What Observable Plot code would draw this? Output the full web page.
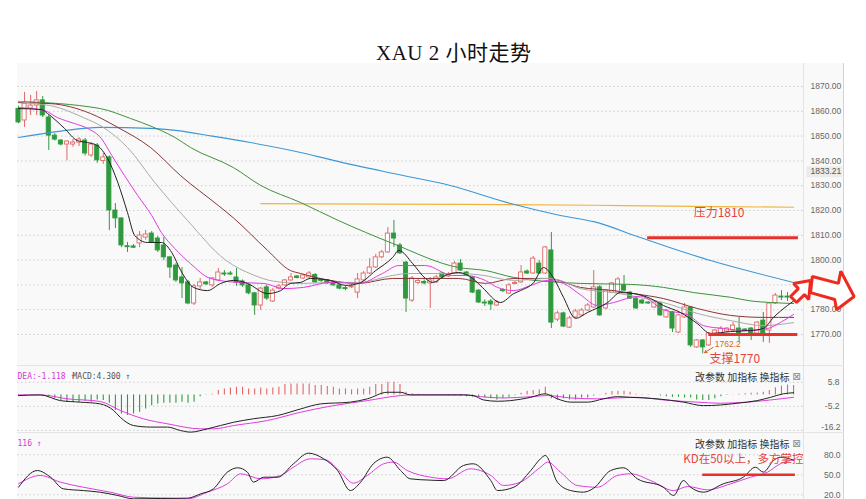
<!DOCTYPE html>
<html><head><meta charset="utf-8">
<script src="https://cdn.jsdelivr.net/npm/d3@7"></script>
<script src="https://cdn.jsdelivr.net/npm/@observablehq/plot@0.6"></script>
<style>
html,body{margin:0;padding:0;background:#fff;}
#wrap{position:relative;width:866px;height:499px;overflow:hidden;}
#title{position:absolute;left:376px;top:40px;font-size:21px;line-height:26px;font-family:"Liberation Serif","Noto Sans CJK SC",serif;color:#111;white-space:nowrap;letter-spacing:0.5px;}
.abs{position:absolute;}
</style></head><body>
<div id="wrap">
<div id="title">XAU 2 小时走势</div>
<div class="abs" style="left:17px;top:63px;width:826px;height:436px;background:#f9f9f9;"></div>
<div class="abs" style="left:803px;top:63px;width:1px;height:436px;background:#e4e4e4;"></div>
<div class="abs" style="left:843px;top:63px;width:1px;height:436px;background:#d4d4d4;"></div>
<div class="abs" style="left:17px;top:365px;width:827px;height:1px;background:#e4e4e4;"></div>
<div class="abs" style="left:17px;top:432px;width:827px;height:1px;background:#e4e4e4;"></div>
<div id="main" class="abs" style="left:0;top:63px;"></div>
<div id="macd" class="abs" style="left:0;top:365px;"></div>
<div id="kdj" class="abs" style="left:0;top:432px;"></div>
</div>
<script>
// ---------- candle data (2h bars, index 0..128) ----------
const open = [1861,1856.3,1861.1,1862.3,1864.4,1857.5,1850.2,1848.2,1846.6,1846.6,
1847.4,1848.2,1842.2,1846.2,1840,1841.4,1820,1816.8,1805.6,1805.5,
1806.7,1809.1,1810.7,1808.7,1805.9,1801.1,1797.8,1793,1791,1782.5,
1789.4,1791,1789.8,1791.8,1794.6,1794.6,1793,1791.4,1789.8,1786.6,
1781.7,1789,1783.3,1788.5,1789.8,1791.8,1793.4,1792.6,1793,1794,
1792,1791.8,1791,1789.8,1788.7,1789,1786.9,1791.8,1794.6,1797,
1801.1,1803.1,1810.7,1805.9,1799,1783.7,1790.8,1791.2,1790.6,1791,
1794.6,1793.4,1794.6,1798.6,1795,1793,1787.7,1782.9,1783.3,1781.7,
1787.9,1786.5,1790.4,1791,1795.4,1794.6,1798.6,1794.6,1803.9,1776,
1778.5,1772.8,1776.9,1777.7,1779.7,1780.9,1789,1780.5,1786.9,1786.9,
1789.8,1786.9,1784.5,1783.7,1782.9,1780.9,1782.5,1776.9,1778.9,1770.8,
1776.9,1780.9,1764.8,1767.6,1765.6,1770.4,1770.4,1771.2,1771.6,1772.4,
1772,1772.4,1770.4,1775.6,1771.6,1782.5,1785.3,1785.3,1784.5];
const high = [1862,1867.6,1866.4,1868,1866,1858.3,1851,1848.6,1848.2,1848.6,
1849.4,1849,1847.4,1847,1843,1842,1822.8,1817,1807.1,1806.3,
1811.5,1812,1811.5,1809.5,1809.1,1801.5,1798.6,1797,1791.8,1790.2,
1792.6,1791.4,1793,1796.6,1795.8,1795.4,1796.6,1792,1790.2,1787,
1789,1789.8,1788.5,1790.2,1792.2,1794.6,1793.8,1794.2,1795.4,1794.6,
1792.4,1792,1791.4,1790.2,1789.4,1790,1794.6,1795.4,1800.6,1802.3,
1803.9,1813.1,1816,1806.7,1799.4,1793.4,1792.4,1792,1793,1793.8,
1795,1795,1799.4,1800.2,1795.4,1793.4,1788.1,1784,1784.1,1783.7,
1788.5,1790.6,1791.4,1797.8,1796,1801.5,1799.8,1805.5,1811.1,1779.3,
1779,1777.3,1780.1,1780.5,1782.5,1795.8,1789.8,1788.1,1791,1793,
1793.8,1787.3,1784.9,1784.1,1783.3,1783.7,1782.9,1780.1,1779.3,1778.1,
1782.5,1781.3,1768,1768,1770.8,1772,1773.2,1772.8,1774.8,1776.9,
1772.4,1772.8,1775.2,1778.9,1782.9,1786.5,1787.7,1786.9,1786.5];
const low = [1855,1853.5,1858.3,1858.3,1857.5,1844.2,1848,1846,1840,1845.5,
1845.8,1842,1841.4,1839,1838.6,1811.9,1812.7,1805,1803.1,1804.7,
1805,1808,1806.7,1803,1799.8,1792.6,1791,1784.5,1782,1781.7,
1788,1789.8,1789,1791.4,1793.4,1793.8,1789.4,1789,1786,1777.7,
1779.7,1783.7,1782.9,1788,1789.4,1791.4,1792.4,1792.2,1792.6,1790.6,
1791,1790.2,1789.4,1788,1787.7,1788.5,1784.5,1791.4,1794.2,1796.6,
1800.6,1802.7,1805.1,1802.3,1778.9,1782.9,1790.2,1790,1780.5,1790.6,
1792.6,1793,1794.2,1795.4,1793.4,1786.5,1782.5,1781.3,1779.7,1781.3,
1786.9,1786.1,1790,1790.6,1794.2,1794.2,1794.2,1794.2,1772.4,1775.2,
1772.8,1772.4,1776.5,1777.3,1779.3,1780.5,1777.3,1780.1,1786.5,1786.5,
1787.3,1784.1,1780.1,1782.1,1782.1,1780.5,1777.3,1776.5,1770.8,1770.4,
1776.5,1764.8,1764.4,1762.2,1765.2,1770,1770,1770.8,1771.2,1766.8,
1771.2,1767.6,1770,1766.8,1766.4,1782.1,1783.7,1783.3,1783.3];
const close = [1855.5,1863.1,1862.3,1864.4,1858.3,1850.2,1848.6,1846.6,1847.8,1847.4,
1848.6,1843,1846.6,1840.2,1841.4,1820,1816.8,1805.9,1805.2,1805,
1809.9,1810.3,1807.1,1803.9,1801.1,1797,1791.8,1790.6,1782.5,1789.4,
1791,1790.2,1792.6,1795,1794.2,1794.2,1791,1789.8,1786.6,1781.7,
1788.5,1784.5,1787.7,1789.4,1791.8,1793,1792.8,1793.8,1794.6,1791,
1791.6,1790.6,1789.8,1788.5,1788.3,1789.4,1792.2,1794.6,1797,1801.1,
1803.1,1810.7,1808.7,1802.7,1784.5,1792.6,1791.6,1790.6,1791.8,1793,
1793,1794.2,1798.6,1795.8,1793.8,1786.9,1782.9,1782.5,1782.1,1782.9,
1787.5,1789.8,1790.8,1795,1794.6,1800.6,1794.6,1805.1,1774.8,1778.5,
1773.2,1776.5,1779.3,1779.7,1781.7,1789,1777.7,1787.7,1790.6,1792.2,
1787.7,1784.5,1780.5,1782.5,1782.5,1782.9,1777.7,1779.7,1772.4,1777.7,
1780.9,1765.6,1767.6,1764.8,1770.4,1771.6,1772.4,1772.4,1773.6,1770.4,
1771.6,1770.4,1774.8,1770.4,1782.5,1785.7,1784.9,1784.9,1785.3];

// ---------- moving averages, read as [bar index, price] ----------
const ma5 = [[0,1861.1],[3.8,1860.7],[4.8,1859.1],[7.6,1853.1],[9.7,1848.2],[11.4,1847.4],[13,1846.2],[14.7,1841],[16.4,1831.3],[18,1819.2],[19.2,1809.9],[21.3,1807.1],[23.6,1807.1],[25.3,1803.1],[26.8,1795.8],[28.9,1789],[31.2,1787.7],[33.4,1790.6],[35.5,1791.8],[37.8,1790.6],[41.1,1786.5],[43.3,1787.7],[44.9,1790.6],[46.6,1791],[48.2,1792.6],[51.5,1791.8],[54,1789.8],[56.2,1790.6],[59,1795.8],[61.8,1801.1],[62.8,1803.9],[65.1,1798.6],[67.2,1792.6],[68.4,1791],[70.5,1793.8],[72.7,1795],[75,1792.6],[76.6,1789],[79.6,1782.9],[81.8,1786.5],[82.9,1787.7],[85.1,1791],[86.7,1797],[88.4,1792.6],[90,1785],[92,1776.5],[94,1778.9],[97.3,1782.9],[99.4,1786.9],[101.6,1786.5],[104.4,1784.5],[106.5,1781.7],[109.3,1778.9],[112.1,1774.4],[114.3,1770.4],[117.6,1771.2],[120.9,1771.6],[123,1772.4],[124.7,1776.9],[127,1781.7],[128,1783.5]];
const ma10 = [[0,1861.5],[4.3,1860.3],[6.4,1857.5],[9.2,1855.1],[11.4,1853.1],[13.7,1849],[15.4,1842.2],[17.5,1834.1],[19.7,1826],[22,1818],[23.6,1811.1],[25.8,1804.7],[28.4,1798.6],[31.7,1792.6],[36.2,1791],[40.5,1790.6],[43.8,1788.5],[47.1,1789],[51.5,1791],[56.2,1790.6],[60.1,1794.6],[62.8,1797.8],[67.2,1797.8],[71.7,1793.8],[73.8,1793.8],[77.1,1791.8],[79.1,1789],[81.8,1787.7],[84.6,1789.8],[87.4,1791.8],[90,1790.6],[92.8,1786],[95.6,1781.7],[98.3,1782.9],[101.1,1784.9],[102.7,1785.5],[106.5,1780],[110.5,1778],[113.1,1773.6],[116.4,1772.4],[120.4,1771.6],[123.7,1772.4],[125.8,1774.8],[128,1778.1]];
const ma20 = [[0,1864],[2.5,1863.1],[5.3,1862.3],[10.7,1857.5],[14,1853.5],[18,1845.4],[22.6,1831],[27.9,1816],[34.2,1800],[38.8,1794],[42.1,1791.5],[47.1,1790.6],[51.5,1791],[56.2,1791],[61.8,1793.8],[64.4,1794.6],[67.2,1794.6],[72.7,1794.6],[76.3,1794],[81.8,1791.8],[87.4,1792.6],[89.5,1791.8],[92.8,1788.5],[98.3,1786.9],[102.7,1784.9],[106.5,1782.9],[112.1,1778.5],[117.6,1775.6],[123,1773.6],[128,1774.8]];
const ma30 = [[0,1863.5],[5.3,1863.1],[11.9,1859.1],[16.4,1853.5],[21.8,1845.4],[26.8,1834],[33,1822],[35.5,1817],[41.1,1804],[44.9,1795.8],[46.6,1794.6],[51.5,1791.8],[56.2,1790.6],[61.8,1792.6],[67.2,1792.6],[72.7,1792.6],[77.1,1790.6],[81.8,1792.6],[87.4,1792.6],[92.8,1789],[98.3,1787.7],[101.6,1786.5],[106.5,1784.5],[112.1,1780.5],[117.6,1777.7],[123,1776.9],[128,1776.9]];
const ma60 = [[0,1864],[13.5,1861.1],[18.5,1857.1],[20.3,1855.5],[23.5,1852.3],[25.8,1849.5],[28.4,1845.4],[35.5,1837.3],[40,1830.1],[46.6,1823.2],[52.8,1816],[61.8,1806.7],[72.7,1797],[77.1,1795.8],[81.8,1793],[92.8,1790.6],[101.1,1790.2],[106.5,1789],[111.5,1786.9],[117.6,1785],[121,1783.5],[124.2,1782.9],[128,1782.5]];
const ma120 = [[0,1849.4],[7,1852],[13.5,1853.5],[21.8,1853.1],[25.9,1852.3],[32,1850],[38.3,1847.4],[46.6,1843.4],[52,1840.2],[61.9,1834.9],[71.3,1830.1],[81.3,1822.8],[89.5,1818],[95,1815.5],[102.7,1809.1],[114.3,1799.8],[128,1791]];
const ma250 = [[40,1822.8],[60,1822.6],[80,1822.4],[100,1822],[115,1821.6],[128,1821.3]];

// ---------- MACD ----------
const macdHist = [0.3,0.2,0.2,0.1,-0.3,-0.8,-1.8,-2.6,-3.3,-3.3,
-3.3,-3.0,-3.3,-2.3,-2.6,-3.8,-7.1,-8.7,-9.4,-8.7,
-7.9,-6.4,-4.9,-4.1,-3.8,-3.8,-3.8,-3.3,-3.8,-3.3,
-0.8,-0.2,0.3,2.0,2.7,3.2,3.5,3.5,2.7,2.7,
3.2,2.7,3.2,3.5,4.7,5.0,5.0,5.0,5.0,4.3,
4.3,3.8,3.5,2.7,2.7,2.3,2.7,2.7,3.5,4.7,
4.7,5.8,5.8,4.7,1.2,0.5,0.3,0.1,-0.2,-0.3,
-0.3,-0.4,-0.5,-0.6,-0.8,-1.1,-1.2,-1.4,-1.8,-2.3,
-1.8,-1.1,-0.4,0.8,1.7,2.0,2.3,3.5,-1.8,-2.3,
-1.8,-2.3,-2.3,-1.4,-1.4,-0.5,-0.2,0.8,1.5,1.7,
1.7,1.2,0.3,0.2,0.2,-0.1,-0.5,-0.8,-1.1,-1.1,
-1.4,-1.4,-2.3,-2.6,-2.6,-1.8,-0.8,-0.3,0.1,0.3,
0.5,0.8,0.9,1.2,2.0,3.3,4.0,4.5,4.3];
const dif = [[0,-0.3],[3.6,0],[6.9,-2.6],[10.2,-3.3],[13.5,-4.1],[15.7,-7.1],[16.8,-10.2],[19,-14],[21.8,-14.7],[24.6,-14.7],[26.8,-16.3],[28.4,-17],[31.2,-15.5],[35.5,-12.5],[38.8,-10.9],[42.8,-9.4],[46.6,-6.4],[49.9,-4.1],[54.8,-3.3],[57.6,-1.8],[60.9,1.2],[63.1,1.2],[64.7,0],[68,0],[73.5,0],[75.1,-0.3],[76.8,-2.3],[79.1,-2.9],[81.3,-2.6],[84.6,-1.1],[87,0.5],[89,-1.8],[91.2,-3.3],[94,-3.3],[96.6,-1.8],[98.9,-0.8],[101.1,-1.1],[105.5,-1.8],[109.8,-3.3],[113.1,-4.9],[115.9,-4.6],[118.7,-3.8],[122,-2.6],[124.2,-1.1],[126.3,0.5],[128,1.0]];
const dea = [[0,0],[3.6,0],[8.1,-1.8],[13.5,-3.0],[16.8,-7.1],[20.6,-10.9],[24.6,-13.2],[30.1,-15.5],[32.2,-15.5],[35.5,-14],[41.1,-11.7],[46.6,-7.9],[52,-4.9],[57.6,-2.6],[63.1,-0.3],[64.7,0],[68,0],[73.5,0],[76.3,-0.8],[80.1,-1.4],[84.6,-0.8],[87.4,-0.3],[91.2,-1.4],[95.6,-1.8],[98.9,-1.4],[102.2,-1.1],[106.5,-2.3],[112.1,-3.3],[115.9,-3.8],[120.4,-3.3],[124.2,-2.3],[128,-1.1]];

// ---------- KDJ ----------
const kLine = [[0,31.4],[3.1,56.4],[5.3,46.4],[7.4,29],[10.7,26.4],[13.5,23.9],[16.4,19],[19,14],[23.5,14.5],[27.9,15],[30.1,21.5],[32.2,29],[34.5,54],[36.2,60.5],[37.8,54],[38.8,39],[40.5,46.4],[42.8,46.4],[45.4,66.5],[47.9,82.4],[50.4,74],[52.7,56.4],[54.8,26.4],[56.5,39],[58.6,66.5],[60.9,76.4],[63.1,56.4],[64.7,44],[68,42],[70.2,41.4],[73.5,64],[75.1,66.5],[78,41.4],[79.1,26.4],[81.8,31.4],[84.6,56.4],[86.2,74],[87,79],[89,39],[91.2,26.4],[93.3,24],[95,30],[97.8,56.4],[99.9,60.5],[102.2,44],[106.5,31.4],[108.2,19],[109.8,41.4],[111,31.4],[113.1,24],[116.4,36.5],[119.7,46.4],[121.7,61.4],[123,54],[124.7,71.4],[125.8,76.4],[128,72]];
const dLine = [[0,36.5],[3.6,49],[6.9,39],[10.7,31.4],[15.2,23.9],[19,16.4],[24.6,15],[27.9,14],[31.2,24],[34.5,36.5],[36.7,51.5],[40,44],[43.3,49],[45.4,61.4],[48.2,74],[50.7,72.5],[53.2,54],[55.3,37.4],[57.6,49],[60.3,66.5],[61.9,69],[64.2,56.4],[68,46.5],[70.9,44],[74.6,59],[78,49],[80.1,34],[82.9,39],[86.2,61.4],[87.4,69],[89.5,54],[92.3,34],[95.6,31.4],[98.9,49],[101.1,51.5],[104.4,41.4],[108.2,26.4],[110.5,32.4],[113.8,27.5],[117.6,36.5],[120.9,46.4],[123.7,54],[125.8,66.5],[128,72.5]];

// ---------- axes / labels / annotations ----------
const priceTicks = [1770,1780,1790,1800,1810,1820,1830,1840,1850,1860,1870];
const priceMarker = [1833.21];
const macdTicks = [5.8,-5.2];
const macdBottomTick = [-16.2];
const kdjTicks = [80,50,20];
const resistance = [{level: 1809, from: 103.9, to: 128.8, label: "压力1810", lx: 111.5, ly: 1819}];
const support = [{level: 1770, from: 114, to: 128.7, label: "支撑1770", lx: 114.1, ly: 1760.1}];
const lowNote = [{text: "1762.2", x: 115.0, y: 1766.2, ax: 114.7, ay: 1764.8, bx: 113.3, by: 1762.7}];
const kdNote = [{text: "KD在50以上，多方掌控", lx: 109.8, ly: 72.5, level: 50, from: 113, to: 128.3}];
const smallArrow = [[130.8,1791.8],[128.0,1790.6],[128.8,1788.5],[127.5,1785.3],[128.5,1782.9],[129.8,1786.1],[130.5,1784.1]];
const bigArrow = [[131.1,1793.4],[135.4,1790.6],[135.8,1795.5],[138.0,1785.3],[135.1,1780.0],[134.8,1784.1],[130.8,1786.9]];
const macdHeader = ["DEA:-1.118 ↑", "MACD:4.300 ↑"];
const kdjHeader = ["116 ↑"];
const buttons = ["改参数 加指标 换指标"];

// ---------- build ----------
const candles = open.map((o, i) => ({i, o, h: high[i], l: low[i], c: close[i]}));
const UP = "#e06868", DOWN = "#2f9a3d", FLAT = "#333";
const col = d => d.c > d.o ? UP : d.c < d.o ? DOWN : FLAT;
const RED = "#e8312b";
const XD = [-0.165, 129.64];
const CJK = "'Noto Sans CJK SC', sans-serif";
const MONO = "'DejaVu Sans Mono', monospace";
const SANS = "'Liberation Sans', sans-serif";
const base = {
  width: 866, marginLeft: 17, marginRight: 63, marginTop: 0, marginBottom: 0,
  x: {domain: XD, axis: null},
  style: {background: "transparent", overflow: "visible"}
};
const L = (data, stroke, w = 1) => Plot.line(data, {x: d => d[0], y: d => d[1], stroke, strokeWidth: w, curve: "monotone-x"});

const main = Plot.plot({
  ...base, height: 302,
  y: {domain: [1757.5, 1879.27], axis: null},
  marks: [
    Plot.ruleY(priceTicks, {stroke: "#cdcdcd", strokeDasharray: "1.5,2.5"}),
    Plot.text(priceTicks, {y: d => d, text: d => d.toFixed(2), frameAnchor: "right", dx: 7, textAnchor: "start", fontSize: 8.5, fill: "#666", fontFamily: SANS}),
    Plot.ruleY(priceMarker, {x1: 130.2, x2: 136.1, dy: -6, stroke: "#ebebeb", strokeWidth: 11}),
    Plot.text(priceMarker, {y: d => d, text: d => d.toFixed(2), frameAnchor: "right", dx: 7, dy: -6, textAnchor: "start", fontSize: 8.5, fill: "#555", fontFamily: SANS}),
    Plot.ruleX(candles, {x: "i", y1: "l", y2: "h", stroke: col, strokeWidth: 1}),
    Plot.rect(candles, {x1: d => d.i - 0.34, x2: d => d.i + 0.34, y1: "o", y2: "c",
      fill: d => d.c > d.o ? "#ffffff" : col(d), stroke: col, strokeWidth: 0.9}),
    L(ma250, "#f0b43c", 1.2),
    L(ma120, "#3d97d6", 1.1),
    L(ma60, "#3e913e", 1),
    L(ma30, "#8b3535", 1),
    L(ma20, "#aaaaaa", 1),
    L(ma10, "#e03ce0", 1),
    L(ma5, "#222222", 1),
    Plot.ruleY(resistance, {y: "level", x1: "from", x2: "to", stroke: RED, strokeWidth: 3}),
    Plot.text(resistance, {x: "lx", y: "ly", text: "label", textAnchor: "start", fill: "#e4453f", fontSize: 12, fontFamily: CJK}),
    Plot.ruleY(support, {y: "level", x1: "from", x2: "to", stroke: RED, strokeWidth: 3}),
    Plot.text(support, {x: "lx", y: "ly", text: "label", textAnchor: "start", fill: "#e4453f", fontSize: 12, fontFamily: CJK}),
    Plot.text(lowNote, {x: "x", y: "y", text: "text", textAnchor: "start", fill: "#d2692a", fontSize: 8.5, fontFamily: SANS}),
    Plot.arrow(lowNote, {x1: "ax", y1: "ay", x2: "bx", y2: "by", stroke: "#d2692a", strokeWidth: 1, headLength: 4}),
    Plot.line(smallArrow, {x: d => d[0], y: d => d[1], curve: "linear-closed", stroke: "#ee2a1e", strokeWidth: 3, fill: "white", strokeLinejoin: "miter"}),
    Plot.line(bigArrow, {x: d => d[0], y: d => d[1], curve: "linear-closed", stroke: "#ee2a1e", strokeWidth: 3, fill: "white", strokeLinejoin: "miter"})
  ]
});
document.getElementById("main").append(main);

const panelTop = (header, colors) => [
  Plot.text([header[0]], {frameAnchor: "top-left", dx: 0, dy: 8, text: d => d, textAnchor: "start", fill: colors[0], fontSize: 8, fontFamily: MONO}),
  ...(header.length > 1 ? [Plot.text([header[1]], {frameAnchor: "top-left", dx: 55, dy: 8, text: d => d, textAnchor: "start", fill: colors[1], fontSize: 8, fontFamily: MONO})] : []),
  Plot.text(buttons, {frameAnchor: "top-right", dx: -14, dy: 8, text: d => d, textAnchor: "end", fill: "#333", fontSize: 10, fontFamily: CJK}),
  Plot.text(["⊠"], {frameAnchor: "top-right", dx: -7, dy: 7, text: d => d, textAnchor: "middle", fill: "#888", fontSize: 10, fontFamily: "'DejaVu Sans', sans-serif"})
];

const macd = Plot.plot({
  ...base, height: 67,
  y: {domain: [-17.17, 13.43], axis: null},
  marks: [
    Plot.ruleY(macdTicks.concat(macdBottomTick), {stroke: "#cdcdcd", strokeDasharray: "1.5,2.5"}),
    Plot.text(macdTicks, {y: d => d, text: d => d.toFixed(1), frameAnchor: "right", dx: 36, textAnchor: "end", fontSize: 8.5, fill: "#666", fontFamily: SANS}),
    Plot.text(macdBottomTick, {y: d => d, text: d => d.toFixed(1), frameAnchor: "right", dx: 37, dy: -3, textAnchor: "end", fontSize: 8.5, fill: "#666", fontFamily: SANS}),
    Plot.ruleX(macdHist, {x: (d, i) => i, y1: 0, y2: d => d, stroke: d => d >= 0 ? UP : DOWN, strokeWidth: 1.1}),
    L(dea, "#e03ce0", 1),
    L(dif, "#222222", 1),
    ...panelTop(macdHeader, ["#d23cd2", "#555"])
  ]
});
document.getElementById("macd").append(macd);

const kdj = Plot.plot({
  ...base, height: 67,
  y: {domain: [13, 113.4], axis: null},
  marks: [
    Plot.ruleY(kdjTicks, {stroke: "#cdcdcd", strokeDasharray: "1.5,2.5"}),
    Plot.text(kdjTicks, {y: d => d, text: d => d.toFixed(1), frameAnchor: "right", dx: 37, textAnchor: "end", fontSize: 8.5, fill: "#666", fontFamily: SANS}),
    L(dLine, "#e03ce0", 1),
    L(kLine, "#222222", 1),
    Plot.ruleY(kdNote, {y: "level", x1: "from", x2: "to", stroke: RED, strokeWidth: 2.5}),
    Plot.text(kdNote, {x: "lx", y: "ly", text: "text", textAnchor: "start", fill: "#e4453f", fontSize: 11.5, fontFamily: CJK}),
    ...panelTop(kdjHeader, ["#d23cd2"])
  ]
});
document.getElementById("kdj").append(kdj);
</script>
</body></html>
